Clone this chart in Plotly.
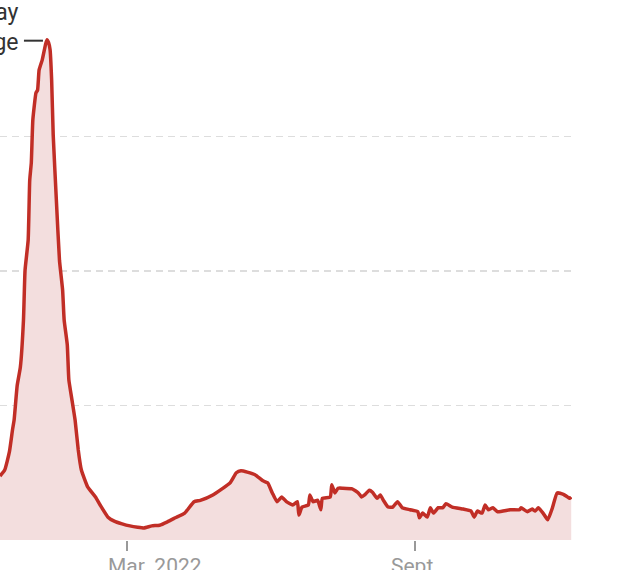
import plotly.graph_objects as go

# 7-day average (thousands)
dates = [
    "2021-12-10", "2021-12-13", "2021-12-16", "2021-12-18", "2021-12-19", "2021-12-21",
    "2021-12-23", "2021-12-25", "2021-12-26", "2021-12-28", "2021-12-29", "2021-12-30",
    "2021-12-31", "2022-01-02", "2022-01-03", "2022-01-04", "2022-01-06", "2022-01-08",
    "2022-01-09", "2022-01-10", "2022-01-11", "2022-01-12", "2022-01-13", "2022-01-15",
    "2022-01-17", "2022-01-19", "2022-01-20", "2022-01-22", "2022-01-23", "2022-01-25",
    "2022-01-27", "2022-01-29", "2022-01-31", "2022-02-04", "2022-02-09", "2022-02-12",
    "2022-02-17", "2022-02-21", "2022-02-26", "2022-03-03", "2022-03-08", "2022-03-12",
    "2022-03-17", "2022-03-22", "2022-03-27", "2022-04-01", "2022-04-07", "2022-04-13",
    "2022-04-17", "2022-04-25", "2022-05-06", "2022-05-10", "2022-05-13", "2022-05-17",
    "2022-05-22", "2022-05-27", "2022-05-30", "2022-06-02", "2022-06-05", "2022-06-08",
    "2022-06-11", "2022-06-15", "2022-06-18", "2022-06-19", "2022-06-21", "2022-06-25",
    "2022-06-26", "2022-06-28", "2022-07-01", "2022-07-03", "2022-07-04", "2022-07-09",
    "2022-07-10", "2022-07-12", "2022-07-14", "2022-07-17", "2022-07-23", "2022-07-27",
    "2022-07-29", "2022-07-31", "2022-08-03", "2022-08-05", "2022-08-08", "2022-08-10",
    "2022-08-12", "2022-08-15", "2022-08-18", "2022-08-21", "2022-08-24", "2022-08-29",
    "2022-09-03", "2022-09-04", "2022-09-06", "2022-09-09", "2022-09-11", "2022-09-13",
    "2022-09-16", "2022-09-19", "2022-09-21", "2022-09-25", "2022-10-02", "2022-10-07",
    "2022-10-09", "2022-10-11", "2022-10-14", "2022-10-16", "2022-10-18", "2022-10-21",
    "2022-10-24", "2022-11-01", "2022-11-07", "2022-11-08", "2022-11-12", "2022-11-15",
    "2022-11-17", "2022-11-19", "2022-11-22", "2022-11-25", "2022-11-28", "2022-12-01",
    "2022-12-05", "2022-12-09", "2022-12-10",
]
values = [
    95, 104, 131, 164, 178, 230,
    257, 327, 401, 446, 535, 561,
    625, 665, 669, 699, 714, 736,
    744, 740, 729, 684, 602, 506,
    416, 372, 327, 290, 238, 208,
    178, 134, 104, 79, 64, 52,
    34, 28, 24, 21, 19, 18,
    21, 22, 27, 33, 40, 57,
    59, 67, 85, 100, 103, 101,
    97, 88, 85, 70, 57, 64,
    57, 52, 57, 37, 49, 52,
    67, 57, 59, 45, 62, 64,
    82, 70, 77, 77, 76, 70,
    64, 67, 74, 71, 62, 67,
    59, 49, 49, 57, 48, 45,
    42, 33, 40, 34, 48, 40,
    48, 48, 54, 49, 46, 43,
    34, 43, 40, 52, 45, 48,
    42, 45, 45, 48, 42, 46,
    43, 48, 40, 30, 48, 70,
    68, 62, 64,
]

grid_values = [200, 400, 600]
tick_dates = ["2022-03-01", "2022-09-01"]
tick_labels = ["Mar. 2022", "Sept."]
series_label = "7-day<br>average"

LINE = "#c12e26"
FILL = "#f3dede"
FONT = "Roboto, Arial, sans-serif"

fig = go.Figure()
fig.add_trace(go.Scatter(
    x=dates, y=values, mode="lines",
    line=dict(color=LINE, width=3.5, shape="spline", smoothing=0.4),
    fill="tozeroy", fillcolor=FILL,
    hoverinfo="skip", showlegend=False,
))

peak_i = max(range(len(values)), key=lambda i: values[i])
peak_d, peak_v = dates[peak_i], values[peak_i]

fig.add_shape(
    type="line", xref="x", yref="y",
    xsizemode="pixel", ysizemode="pixel",
    xanchor=peak_d, yanchor=peak_v,
    x0=-23, x1=-4, y0=-1, y1=-1,
    line=dict(color="#333333", width=2),
)
fig.add_annotation(
    x=peak_d, y=peak_v, xref="x", yref="y",
    text=series_label, showarrow=False,
    xanchor="right", yanchor="middle", align="right",
    xshift=-26, yshift=12,
    font=dict(family=FONT, size=23, color="#333333"),
)

for d, t in zip(tick_dates, tick_labels):
    fig.add_annotation(
        x=d, y=0, xref="x", yref="paper",
        text=t, showarrow=False,
        xanchor="left" if " " in t else "center", yanchor="top",
        xshift=-21 if " " in t else 0, yshift=-12,
        font=dict(family=FONT, size=21, color="#999999"),
    )

fig.update_layout(
    width=634, height=570,
    margin=dict(l=0, r=62, t=0, b=30),
    paper_bgcolor="white", plot_bgcolor="white",
    xaxis=dict(
        type="date", range=["2021-12-10", "2022-12-10 12:00"],
        showgrid=False, zeroline=False, showline=False,
        tickvals=tick_dates, showticklabels=False,
        ticks="outside", ticklen=10, tickwidth=2, tickcolor="#999999",
    ),
    yaxis=dict(
        range=[0, 803], side="right",
        tickvals=grid_values, showticklabels=False,
        showgrid=True, gridcolor="#dddddd", gridwidth=1.5, griddash="7px,5px",
        zeroline=False, showline=False, ticks="",
    ),
)

fig.write_html(
    "out.html",
    config={"displayModeBar": False, "staticPlot": True},
    post_script="document.body.style.margin='0';document.body.style.overflow='hidden';",
)
